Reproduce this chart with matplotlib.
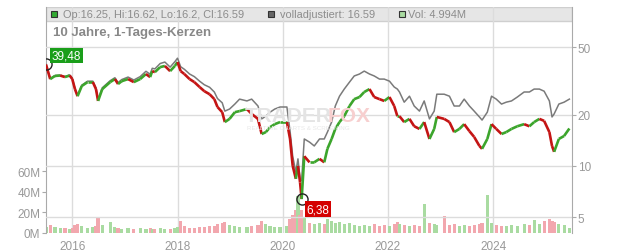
import numpy as np
import matplotlib
matplotlib.use("Agg")
import matplotlib.pyplot as plt
from matplotlib.collections import LineCollection
from matplotlib.patches import Rectangle
from matplotlib.ticker import NullLocator

plt.rcParams['font.family'] = ['Liberation Sans', 'DejaVu Sans']

# data (decimal years, price, adjusted price, volume in M)
dates = [2015.50, 2015.58, 2015.67, 2015.77, 2015.86, 2015.95, 2016.00, 2016.05, 2016.10, 2016.18,
         2016.29, 2016.39, 2016.45, 2016.49, 2016.57, 2016.72, 2016.81, 2016.87, 2016.94, 2017.06,
         2017.17, 2017.29, 2017.40, 2017.48, 2017.52, 2017.57, 2017.67, 2017.76, 2017.86, 2017.95,
         2018.00, 2018.06, 2018.13, 2018.23, 2018.32, 2018.42, 2018.51, 2018.61, 2018.70, 2018.76,
         2018.85, 2018.90, 2018.99, 2019.09, 2019.18, 2019.32, 2019.41, 2019.53, 2019.60, 2019.68,
         2019.76, 2019.85, 2019.95, 2020.08, 2020.14, 2020.19, 2020.25, 2020.29, 2020.33, 2020.36,
         2020.41, 2020.51, 2020.60, 2020.70, 2020.79, 2020.85, 2020.93, 2021.00, 2021.08, 2021.17,
         2021.27, 2021.36, 2021.46, 2021.55, 2021.65, 2021.74, 2021.84, 2021.93, 2022.03, 2022.12,
         2022.18, 2022.22, 2022.31, 2022.41, 2022.50, 2022.60, 2022.69, 2022.79, 2022.88, 2022.93,
         2023.07, 2023.17, 2023.26, 2023.36, 2023.45, 2023.55, 2023.64, 2023.74, 2023.79, 2023.89,
         2023.97, 2024.06, 2024.16, 2024.25, 2024.35, 2024.46, 2024.59, 2024.69, 2024.78, 2024.88,
         2024.97, 2025.07, 2025.12, 2025.16, 2025.25, 2025.35, 2025.45]
close = [39.48, 32.4, 33.8, 34.0, 33.3, 34.0, 32.4, 28.3, 25.7, 29.5,
         31.1, 31.1, 28.3, 24.1, 28.3, 31.1, 32.4, 30.3, 31.5, 32.4,
         31.1, 32.4, 34.7, 33.3, 36.1, 35.6, 38.1, 38.7, 36.1, 38.7,
         40.8, 36.1, 34.7, 32.4, 31.1, 29.1, 27.5, 26.4, 24.7, 22.2,
         20.7, 18.1, 18.9, 20.7, 21.0, 21.6, 20.2, 18.9, 15.4, 15.8,
         16.9, 17.6, 18.1, 18.1, 14.4, 10.0, 8.4, 10.0, 8.0, 6.38,
         11.4, 10.5, 10.5, 11.0, 10.5, 12.6, 14.4, 16.5, 18.1, 19.6,
         22.5, 24.7, 25.4, 27.2, 28.3, 25.4, 24.7, 24.1, 25.4, 22.5,
         19.6, 19.6, 18.1, 18.9, 17.1, 16.5, 18.1, 14.4, 16.5, 19.4,
         18.9, 18.1, 15.8, 16.5, 17.6, 16.0, 14.8, 13.1, 12.6, 14.4,
         17.6, 16.5, 15.4, 15.8, 16.5, 17.1, 17.6, 17.1, 18.1, 18.9,
         18.4, 15.8, 13.1, 12.1, 14.4, 15.0, 16.59]
adjusted = [39.48, 32.6, 34.0, 34.2, 33.5, 34.3, 32.7, 28.6, 26.0, 29.8,
            31.5, 31.5, 28.7, 24.5, 28.8, 31.7, 33.0, 30.9, 32.2, 33.3,
            32.0, 33.5, 36.0, 34.6, 37.5, 37.2, 40.0, 40.8, 38.1, 41.0,
            43.0, 38.3, 37.0, 34.7, 33.5, 31.5, 30.0, 29.0, 27.2, 24.9,
            23.5, 21.0, 21.6, 23.1, 24.7, 24.1, 24.7, 22.5, 18.9, 19.6,
            20.7, 21.6, 22.2, 22.2, 16.0, 11.4, 9.2, 11.0, 8.4, 8.2,
            14.4, 13.8, 13.1, 14.4, 14.4, 15.8, 18.1, 22.5, 25.7, 28.3,
            31.1, 33.8, 34.7, 36.1, 34.7, 33.8, 32.4, 32.4, 31.5, 29.1,
            28.3, 27.2, 23.7, 25.7, 22.5, 21.0, 24.1, 18.9, 21.0, 26.4,
            26.4, 25.7, 22.5, 22.5, 24.7, 22.5, 21.0, 19.4, 18.6, 20.7,
            25.7, 24.7, 23.1, 23.7, 24.1, 25.4, 27.2, 27.2, 28.3, 28.3,
            27.5, 24.1, 19.4, 20.2, 23.1, 23.7, 24.7]
volume = [6, 8, 6, 5, 5, 4, 5, 8, 9, 7,
          5, 6, 7, 15, 8, 11, 6, 5, 4, 5,
          4, 5, 4, 5, 4, 4, 5, 4, 4, 5,
          6, 12, 7, 5, 5, 6, 6, 7, 7, 9,
          10, 11, 8, 7, 6, 6, 7, 8, 12, 9,
          7, 6, 6, 7, 14, 18, 22, 36, 18, 22,
          15, 10, 9, 10, 9, 14, 12, 10, 11, 9,
          10, 8, 7, 8, 7, 9, 7, 8, 7, 9,
          11, 9, 8, 7, 8, 7, 28, 10, 9, 8,
          17, 8, 9, 7, 8, 7, 8, 9, 10, 37,
          10, 8, 7, 7, 8, 7, 9, 8, 13, 9,
          12, 14, 12, 11, 9, 8, 5]

year_ticks = [2016, 2018, 2020, 2022, 2024]
price_ticks = [5, 10, 20, 50]
vol_ticks = [0, 20, 40, 60]

W, H = 632, 253
def fx(px):
    return px / W
def fy(py):
    return 1 - py / H

green = '#3ca52c'
red = '#c41414'
grid_c = '#dcdcdc'
txt_c = '#999999'

fig = plt.figure(figsize=(W / 100, H / 100), dpi=100)
axv = fig.add_axes([fx(46), fy(234), fx(572) - fx(46), fy(8) - fy(234)])
axp = axv.twinx()

# header band
axv.add_patch(Rectangle((0, 1 - 14 / 226), 1, 14 / 226, transform=axv.transAxes,
                        facecolor='#e6e6e6', edgecolor='#cfcfcf', lw=1, zorder=0))
for yr in year_ticks:
    axv.axvline(yr, color=grid_c, lw=1, zorder=0.5)

# volume bars
up = [True] + [close[i] >= close[i - 1] for i in range(1, len(close))]
vcol = ['#a9dba1' if u else '#f2a7ae' for u in up]
axv.bar(dates, volume, width=0.06, color=vcol, zorder=1)
axv.set_ylim(0, 220)
axv.set_xlim(2015.5, 2025.5)
axv.set_yticks(vol_ticks)
axv.set_yticklabels([f'{v}M' for v in vol_ticks])
axv.set_xticks(year_ticks)
axv.set_xticklabels([str(y) for y in year_ticks])

# price
for p in price_ticks:
    axp.axhline(p, color=grid_c, lw=1, zorder=0)
axp.plot(dates, adjusted, color='#7a7a7a', lw=1.1, zorder=2)
pts = np.column_stack([dates, close])
segs = [pts[i - 1:i + 1] for i in range(1, len(pts))]
lc = LineCollection(segs, colors=[green if up[i] else red for i in range(1, len(pts))],
                    linewidths=1.9, zorder=3)
axp.add_collection(lc)
axp.set_yscale('log')
axp.set_ylim(4.03, 86)
axp.set_yticks(price_ticks)
axp.set_yticklabels([str(p) for p in price_ticks])
axp.yaxis.set_minor_locator(NullLocator())

# high / low markers
i_lo = int(np.argmin(close))
axp.plot(dates[0], close[0], 'o', ms=8, mfc='none', mec='#222222', mew=1, zorder=4)
axp.plot(dates[i_lo], close[i_lo], 'o', ms=8, mfc='none', mec='#222222', mew=1, zorder=4)
axp.annotate('39,48', (dates[0], close[0]), xytext=(6, 9), textcoords='offset pixels',
             ha='left', va='center', color='white', fontsize=8.5, zorder=5,
             bbox=dict(boxstyle='square,pad=0.15', fc='#1a9e1a', ec='none'))
axp.annotate('6,38', (dates[i_lo], close[i_lo]), xytext=(5, -10), textcoords='offset pixels',
             ha='left', va='center', color='white', fontsize=8.5, zorder=5,
             bbox=dict(boxstyle='square,pad=0.15', fc='#d40000', ec='none'))

# styling
for a in (axv, axp):
    for s in a.spines.values():
        s.set_visible(False)
axv.spines['left'].set_visible(True)
axv.spines['left'].set_color('#aaaaaa')
axp.spines['right'].set_visible(True)
axp.spines['right'].set_color('#aaaaaa')
axv.tick_params(axis='y', length=3, color='#aaaaaa', labelcolor=txt_c, labelsize=8.5, pad=1)
axv.tick_params(axis='x', length=0, labelcolor=txt_c, labelsize=8.5, pad=5)
axp.tick_params(axis='y', length=3, color='#aaaaaa', labelcolor=txt_c, labelsize=8.5, pad=1)

# watermark
fig.text(fx(245), fy(117), 'TRADER', fontsize=15, fontweight='bold', color='#e4e4e4',
         ha='left', va='center', zorder=0)
fig.text(fx(328), fy(117), 'FOX', fontsize=15, fontweight='bold', color='#f7cfcf',
         ha='left', va='center', zorder=0)
fig.text(fx(247), fy(129), 'REALTIME CHARTS & SCREENING', fontsize=4.5, color='#e8e8e8',
         ha='left', va='center', zorder=0)

# header legend
def square(x, fc):
    fig.patches.append(Rectangle((fx(x), fy(18)), 6 / W, 6 / H, transform=fig.transFigure,
                                 facecolor=fc, edgecolor='#333333', lw=0.8))
square(51, '#33aa33')
fig.text(fx(63), fy(15), 'Op:16.25, Hi:16.62, Lo:16.2, Cl:16.59', fontsize=7.9, color='#8c8c8c',
         ha='left', va='center')
square(268, '#666666')
fig.text(fx(280), fy(15), 'volladjustiert: 16.59', fontsize=7.9, color='#8c8c8c', ha='left', va='center')
square(399, '#a9dba1')
fig.text(fx(408), fy(15), 'Vol: 4.994M', fontsize=7.9, color='#8c8c8c', ha='left', va='center')

fig.text(fx(53), fy(33), '10 Jahre, 1-Tages-Kerzen', fontsize=9.5, fontweight='bold',
         color='#888888', ha='left', va='center')

fig.savefig('out.png', dpi=100)
